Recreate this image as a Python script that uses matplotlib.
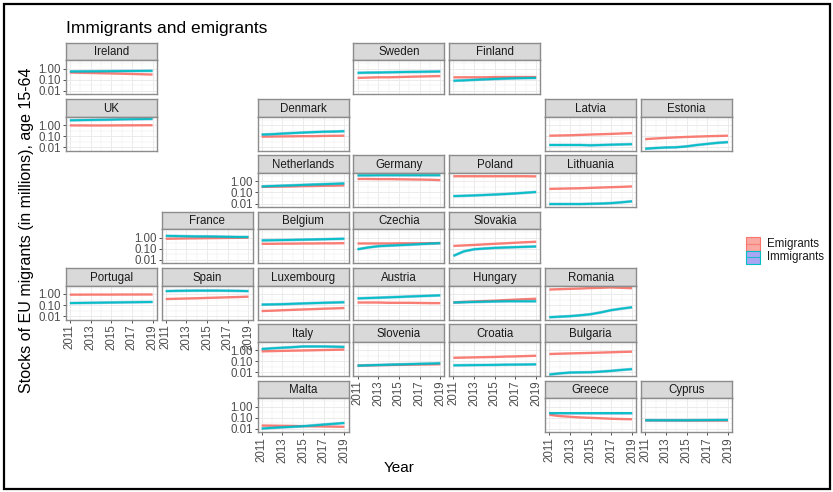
import matplotlib
matplotlib.use("Agg")
import matplotlib.pyplot as plt
from matplotlib.patches import Rectangle
from matplotlib.lines import Line2D
from matplotlib.ticker import NullFormatter, FixedLocator
import numpy as np

plt.rcParams['font.family'] = ['Liberation Sans', 'DejaVu Sans']

years = [2011, 2012, 2013, 2014, 2015, 2016, 2017, 2018, 2019]

countries = ['Ireland', 'Sweden', 'Finland',
             'UK', 'Denmark', 'Latvia', 'Estonia',
             'Netherlands', 'Germany', 'Poland', 'Lithuania',
             'France', 'Belgium', 'Czechia', 'Slovakia',
             'Portugal', 'Spain', 'Luxembourg', 'Austria', 'Hungary', 'Romania',
             'Italy', 'Slovenia', 'Croatia', 'Bulgaria',
             'Malta', 'Greece', 'Cyprus']
grid_row = [0, 0, 0,
            1, 1, 1, 1,
            2, 2, 2, 2,
            3, 3, 3, 3,
            4, 4, 4, 4, 4, 4,
            5, 5, 5, 5,
            6, 6, 6]
grid_col = [0, 3, 4,
            0, 2, 5, 6,
            2, 3, 4, 5,
            1, 2, 3, 4,
            0, 1, 2, 3, 4, 5,
            2, 3, 4, 5,
            2, 5, 6]

emigrants = [
    [0.46, 0.44, 0.42, 0.40, 0.38, 0.36, 0.34, 0.32, 0.30],      # Ireland
    [0.15, 0.16, 0.17, 0.17, 0.18, 0.19, 0.20, 0.21, 0.22],      # Sweden
    [0.17, 0.17, 0.17, 0.17, 0.18, 0.18, 0.18, 0.18, 0.18],      # Finland
    [0.93, 0.93, 0.92, 0.92, 0.93, 0.94, 0.95, 0.96, 0.97],      # UK
    [0.090, 0.092, 0.095, 0.097, 0.10, 0.10, 0.105, 0.108, 0.11],  # Denmark
    [0.11, 0.115, 0.12, 0.13, 0.14, 0.15, 0.16, 0.175, 0.19],    # Latvia
    [0.054, 0.062, 0.07, 0.078, 0.085, 0.092, 0.098, 0.104, 0.11],  # Estonia
    [0.32, 0.33, 0.34, 0.35, 0.37, 0.38, 0.40, 0.41, 0.43],      # Netherlands
    [1.65, 1.65, 1.6, 1.6, 1.55, 1.5, 1.45, 1.4, 1.3],           # Germany
    [2.9, 2.9, 2.9, 2.9, 2.9, 2.9, 2.9, 2.9, 2.8],               # Poland
    [0.21, 0.22, 0.23, 0.24, 0.26, 0.28, 0.30, 0.32, 0.35],      # Lithuania
    [0.80, 0.82, 0.85, 0.87, 0.9, 0.92, 0.95, 0.97, 1.0],        # France
    [0.28, 0.28, 0.29, 0.29, 0.30, 0.30, 0.31, 0.31, 0.32],      # Belgium
    [0.30, 0.30, 0.30, 0.30, 0.31, 0.31, 0.31, 0.32, 0.32],      # Czechia
    [0.18, 0.2, 0.22, 0.25, 0.28, 0.31, 0.35, 0.39, 0.43],       # Slovakia
    [0.87, 0.87, 0.88, 0.88, 0.88, 0.89, 0.89, 0.9, 0.9],        # Portugal
    [0.35, 0.37, 0.39, 0.41, 0.44, 0.47, 0.5, 0.53, 0.57],       # Spain
    [0.029, 0.031, 0.034, 0.037, 0.04, 0.043, 0.047, 0.05, 0.054],  # Luxembourg
    [0.17, 0.17, 0.17, 0.16, 0.16, 0.16, 0.155, 0.15, 0.15],     # Austria
    [0.17, 0.19, 0.21, 0.23, 0.25, 0.28, 0.31, 0.34, 0.37],      # Hungary
    [2.5, 2.7, 2.9, 3.1, 3.4, 3.6, 3.9, 3.6, 3.3],               # Romania
    [0.8, 0.84, 0.88, 0.92, 0.96, 1.0, 1.05, 1.1, 1.15],         # Italy
    [0.041, 0.043, 0.045, 0.047, 0.048, 0.05, 0.052, 0.053, 0.055],  # Slovenia
    [0.21, 0.22, 0.23, 0.24, 0.25, 0.27, 0.28, 0.3, 0.32],       # Croatia
    [0.46, 0.49, 0.52, 0.55, 0.58, 0.62, 0.66, 0.71, 0.75],      # Bulgaria
    [0.0195, 0.019, 0.0185, 0.018, 0.017, 0.0165, 0.016, 0.0155, 0.015],  # Malta
    [0.18, 0.14, 0.12, 0.105, 0.096, 0.088, 0.08, 0.075, 0.072],  # Greece
    [0.058, 0.057, 0.056, 0.056, 0.055, 0.055, 0.055, 0.055, 0.055],  # Cyprus
]

immigrants = [
    [0.57, 0.58, 0.59, 0.60, 0.61, 0.62, 0.63, 0.64, 0.65],      # Ireland
    [0.43, 0.45, 0.46, 0.48, 0.50, 0.52, 0.53, 0.55, 0.57],      # Sweden
    [0.083, 0.09, 0.10, 0.11, 0.12, 0.13, 0.14, 0.145, 0.15],    # Finland
    [2.7, 2.8, 2.9, 3.0, 3.1, 3.3, 3.4, 3.5, 3.6],               # UK
    [0.14, 0.15, 0.17, 0.19, 0.21, 0.23, 0.25, 0.26, 0.28],      # Denmark
    [0.016, 0.016, 0.016, 0.016, 0.015, 0.016, 0.017, 0.018, 0.019],  # Latvia
    [0.0074, 0.0085, 0.0095, 0.010, 0.012, 0.016, 0.020, 0.025, 0.029],  # Estonia
    [0.35, 0.38, 0.41, 0.44, 0.48, 0.52, 0.56, 0.60, 0.65],      # Netherlands
    [3.5, 3.5, 3.6, 3.6, 3.6, 3.6, 3.6, 3.6, 3.6],               # Germany
    [0.047, 0.050, 0.054, 0.059, 0.065, 0.072, 0.082, 0.095, 0.11],  # Poland
    [0.009, 0.009, 0.009, 0.009, 0.0095, 0.010, 0.011, 0.013, 0.016],  # Lithuania
    [1.45, 1.4, 1.35, 1.3, 1.3, 1.25, 1.2, 1.15, 1.15],          # France
    [0.57, 0.59, 0.61, 0.63, 0.66, 0.69, 0.72, 0.76, 0.8],       # Belgium
    [0.09, 0.13, 0.17, 0.19, 0.21, 0.23, 0.26, 0.29, 0.32],      # Czechia
    [0.023, 0.058, 0.09, 0.105, 0.12, 0.13, 0.14, 0.15, 0.16],   # Slovakia
    [0.15, 0.155, 0.16, 0.165, 0.17, 0.175, 0.18, 0.185, 0.19],  # Portugal
    [1.8, 1.9, 1.95, 2.0, 2.0, 2.0, 1.95, 1.9, 1.8],             # Spain
    [0.11, 0.115, 0.12, 0.13, 0.14, 0.15, 0.16, 0.17, 0.18],     # Luxembourg
    [0.4, 0.43, 0.46, 0.5, 0.54, 0.59, 0.64, 0.69, 0.75],        # Austria
    [0.17, 0.18, 0.19, 0.2, 0.21, 0.22, 0.22, 0.22, 0.22],       # Hungary
    [0.008, 0.009, 0.010, 0.012, 0.015, 0.022, 0.035, 0.048, 0.063],  # Romania
    [1.3, 1.5, 1.7, 1.9, 2.2, 2.2, 2.2, 2.1, 2.0],               # Italy
    [0.041, 0.044, 0.047, 0.05, 0.053, 0.056, 0.06, 0.063, 0.067],  # Slovenia
    [0.044, 0.045, 0.046, 0.047, 0.048, 0.05, 0.051, 0.052, 0.054],  # Croatia
    [0.0065, 0.0082, 0.0098, 0.0102, 0.0105, 0.012, 0.014, 0.017, 0.02],  # Bulgaria
    [0.0105, 0.012, 0.0135, 0.015, 0.017, 0.02, 0.024, 0.028, 0.033],  # Malta
    [0.24, 0.24, 0.24, 0.24, 0.24, 0.24, 0.24, 0.24, 0.24],      # Greece
    [0.058, 0.058, 0.058, 0.058, 0.058, 0.059, 0.06, 0.061, 0.062],  # Cyprus
]

series_names = ['Emigrants', 'Immigrants']
y_ticks = [0.01, 0.1, 1.0]
y_tick_labels = ['0.01', '0.10', '1.00']
x_ticks = [2011, 2013, 2015, 2017, 2019]

EMI_COL = '#F8766D'
IMM_COL = '#00BFC4'

W, H = 833, 492
fig = plt.figure(figsize=(W / 100, H / 100), dpi=100)


def rect(x, y, w, h):
    return [x / W, 1 - (y + h) / H, w / W, h / H]


X0, Y0 = 65.7, 42.7
DX, DY = 95.9, 56.3
PW = 91.0
SH = 17.6
PH = 34.0
BORDER = '#8C8C8C'

row_min_col = {}
col_max_row = {}
for r, c in zip(grid_row, grid_col):
    row_min_col[r] = min(c, row_min_col.get(r, 99))
    col_max_row[c] = max(r, col_max_row.get(c, -1))

for i, name in enumerate(countries):
    r, c = grid_row[i], grid_col[i]
    left = X0 + DX * c
    top = Y0 + DY * r
    # strip
    sax = fig.add_axes(rect(left, top, PW, SH))
    sax.set_facecolor('#D9D9D9')
    sax.set_xticks([]); sax.set_yticks([])
    for s in sax.spines.values():
        s.set_color(BORDER); s.set_linewidth(1.0)
    sax.text(0.5, 0.45, name, ha='center', va='center', fontsize=8.3,
             color='#1A1A1A', transform=sax.transAxes)
    # panel
    ax = fig.add_axes(rect(left, top + SH, PW, PH))
    ax.set_yscale('log')
    ax.set_ylim(0.005, 5.8)
    ax.set_xlim(2010.6, 2019.4)
    ax.yaxis.set_major_locator(FixedLocator(y_ticks))
    ax.yaxis.set_minor_locator(FixedLocator([10 ** -1.5, 10 ** -0.5, 10 ** 0.5]))
    ax.yaxis.set_minor_formatter(NullFormatter())
    ax.xaxis.set_major_locator(FixedLocator(x_ticks))
    ax.xaxis.set_minor_locator(FixedLocator([2012, 2014, 2016, 2018]))
    ax.grid(which='major', color='#EBEBEB', linewidth=0.7)
    ax.grid(which='minor', color='#EBEBEB', linewidth=0.35)
    ax.set_axisbelow(True)
    for s in ax.spines.values():
        s.set_color(BORDER); s.set_linewidth(1.0)
    ax.tick_params(which='minor', length=0)
    show_y = (c == row_min_col[r])
    show_x = (r == col_max_row[c])
    if show_y:
        ax.set_yticklabels(y_tick_labels)
        ax.tick_params(axis='y', which='major', length=2.5, width=0.6,
                       color='#333333', labelsize=8.3, labelcolor='#4D4D4D', pad=1)
    else:
        ax.tick_params(axis='y', which='major', length=0, labelleft=False)
    if show_x:
        ax.set_xticklabels([str(t) for t in x_ticks], rotation=90)
        ax.tick_params(axis='x', which='major', length=2.5, width=0.6,
                       color='#333333', labelsize=8.3, labelcolor='#4D4D4D', pad=1)
    else:
        ax.tick_params(axis='x', which='major', length=0, labelbottom=False)
    # data
    ax.plot(years, emigrants[i], color=EMI_COL, lw=1.7, alpha=0.95,
            solid_capstyle='butt')
    ax.plot(years, immigrants[i], color='#1E8FD0', lw=2.1, alpha=0.45,
            solid_capstyle='butt')
    ax.plot(years, immigrants[i], color=IMM_COL, lw=1.4, alpha=0.95,
            solid_capstyle='butt')

# titles
fig.text(65.7 / W, 1 - 28 / H, 'Immigrants and emigrants', fontsize=12.5,
         ha='left', va='center', color='black')
fig.text(399 / W, 1 - 468 / H, 'Year', fontsize=11, ha='center', va='center')
fig.text(27 / W, 1 - 230 / H, 'Stocks of EU migrants (in millions), age 15-64',
         fontsize=11.5, ha='center', va='center', rotation=90)

# legend (drawn manually)
lx, ly, kw, kh = 746, 237, 13.5, 13.5
leg_fill = ['#F9A8A2', '#A9A6F3']
leg_edge = [EMI_COL, IMM_COL]
for k, nm in enumerate(series_names):
    y = ly + k * kh
    fig.patches.append(Rectangle((lx / W, 1 - (y + kh) / H), kw / W, kh / H,
                                 transform=fig.transFigure, facecolor=leg_fill[k],
                                 edgecolor=leg_edge[k], linewidth=0.8))
    fig.lines.append(Line2D([lx / W, (lx + kw) / W],
                            [1 - (y + kh / 2) / H, 1 - (y + kh / 2) / H],
                            transform=fig.transFigure, color=leg_edge[k],
                            linewidth=0.8, alpha=0.8))
    fig.text((lx + kw + 7) / W, 1 - (y + kh / 2) / H, nm, fontsize=8.3,
             ha='left', va='center', color='#1A1A1A')

# outer frame
fig.patches.append(Rectangle((3.5 / W, 3.5 / H), (W - 7) / W, (H - 7) / H,
                             transform=fig.transFigure, fill=False,
                             edgecolor='black', linewidth=1.6))

fig.savefig('out.png', dpi=100)
